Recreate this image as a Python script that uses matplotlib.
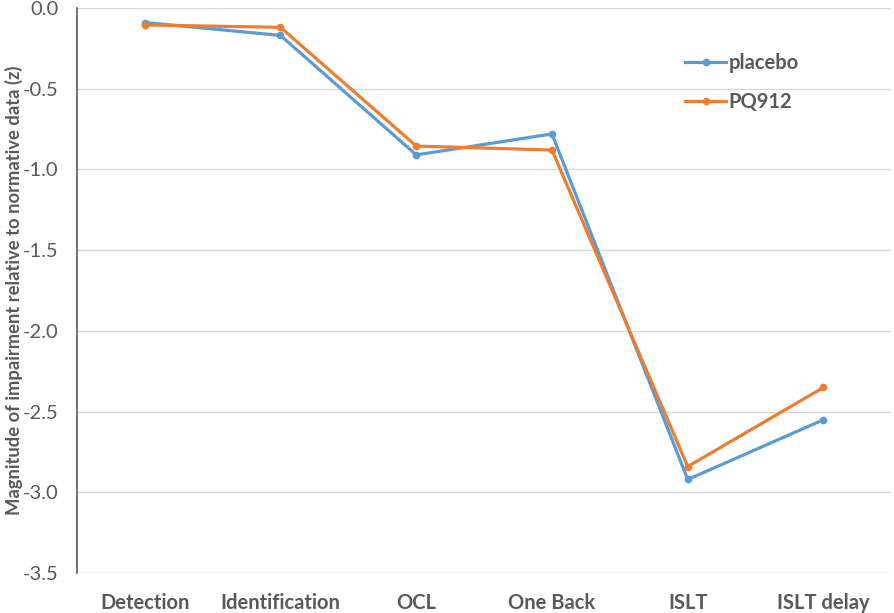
import matplotlib.pyplot as plt

# Tests et valeurs (z)
tests = ['Detection', 'Identification', 'OCL', 'One Back', 'ISLT', 'ISLT delay']
placebo = [-0.09, -0.17, -0.91, -0.78, -2.92, -2.55]
pq912 = [-0.105, -0.12, -0.855, -0.88, -2.84, -2.35]

colors = ['#5B9BD5', '#ED7D31']
txt = '#595959'

plt.rcParams['font.family'] = ['Lato', 'DejaVu Sans']

fig = plt.figure(figsize=(8.94, 6.13), dpi=100)
ax = fig.add_axes([0.086, 0.065, 0.911, 0.922])

x = range(len(tests))
ax.plot(x, placebo, color=colors[0], lw=2.3, marker='o', ms=4.5, label='placebo')
ax.plot(x, pq912, color=colors[1], lw=2.3, marker='o', ms=4.5, label='PQ912')

ax.set_xlim(-0.5, len(tests) - 0.5)
ax.set_ylim(-3.5, 0.0)
ax.set_yticks([0.0, -0.5, -1.0, -1.5, -2.0, -2.5, -3.0, -3.5])
ax.set_yticklabels([f'{v:.1f}' for v in ax.get_yticks()])
ax.set_xticks(list(x))
ax.set_xticklabels(tests, fontweight='bold')
ax.tick_params(axis='both', length=0, labelsize=14.5, colors=txt)
ax.tick_params(axis='x', pad=14)
ax.tick_params(axis='y', pad=13)

ax.grid(axis='y', color='#D9D9D9', lw=1)
ax.set_axisbelow(True)
for s in ['top', 'right', 'bottom']:
    ax.spines[s].set_visible(False)
ax.spines['left'].set_color('#595959')
ax.spines['left'].set_linewidth(1.2)

# titre de l'axe y placé à la main pour ne pas être coupé
fig.text(0.016, 0.065 + 0.922 / 2, 'Magnitude of impairment relative to normative data (z)',
         rotation=90, ha='center', va='center',
         fontsize=13.2, fontweight='bold', color=txt)

leg = ax.legend(loc='upper left', bbox_to_anchor=(0.725, 0.953), frameon=False,
                prop={'size': 14.5, 'weight': 'bold'}, handlelength=2.0,
                handletextpad=0.15, labelspacing=0.95)
for t in leg.get_texts():
    t.set_color(txt)

plt.savefig('out.png', dpi=100)
